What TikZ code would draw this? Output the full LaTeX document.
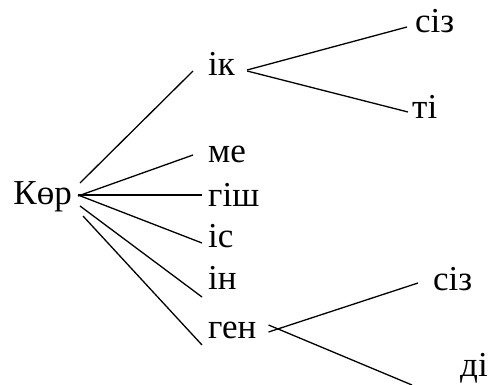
\documentclass[tikz,border=0pt]{standalone}
\usepackage{fontspec}
\setmainfont{Liberation Serif}
\usetikzlibrary{calc}
\begin{document}
\begin{tikzpicture}[x=1pt,y=-1pt,
  word/.style={inner sep=0pt,font=\fontsize{35}{40}\selectfont},
  link/.style={line width=1.3pt,black}]
\useasboundingbox (0,0) rectangle (492,385);
% words
\node[word,anchor=base east] (kor) at (72,204) {Көр};
\node[word,anchor=base west] (ik) at (208,76) {ік};
\node[word,anchor=base west] (siz1) at (415,33) {сіз};
\node[word,anchor=base west] (ti) at (412,118) {ті};
\node[word,anchor=base west] (me) at (208,162) {ме};
\node[word,anchor=base west] (gish) at (208,206) {гіш};
\node[word,anchor=base west] (is) at (208,247) {іс};
\node[word,anchor=base west] (in) at (208,289) {ін};
\node[word,anchor=base west] (gen) at (208,338) {ген};
\node[word,anchor=base west] (siz2) at (433,290) {сіз};
\node[word,anchor=base west] (di) at (460,376) {ді};
% connectors from Көр
\draw[link] ($(kor.base east)+(8,-21)$) -- ($(ik.base west)+(-15,-5)$);
\draw[link] ($(kor.base east)+(6,-8)$) -- ($(me.base west)+(-15,-7)$);
\draw[link] ($(kor.base east)+(6,-9)$) -- ($(gish.base west)+(-6,-11)$);
\draw[link] ($(kor.base east)+(6,-9)$) -- ($(is.base west)+(-6,-4)$);
\draw[link] ($(kor.base east)+(8,2)$) -- ($(in.base west)+(-6,8)$);
\draw[link] ($(kor.base east)+(11,12)$) -- ($(gen.base west)+(-6,7)$);
% connectors from ік
\draw[link] ($(ik.base east)+(12,-6)$) -- ($(siz1.base west)+(-8,-6)$);
\draw[link] ($(ik.base east)+(12,-5)$) -- ($(ti.base west)+(-4,-6)$);
% connectors from ген
\draw[link] ($(gen.base east)+(12,-6)$) -- ($(siz2.base west)+(-15,-7)$);
\draw[link] ($(gen.base east)+(12,-13)$) -- ($(di.base west)+(-48,9)$);
\end{tikzpicture}
\end{document}
